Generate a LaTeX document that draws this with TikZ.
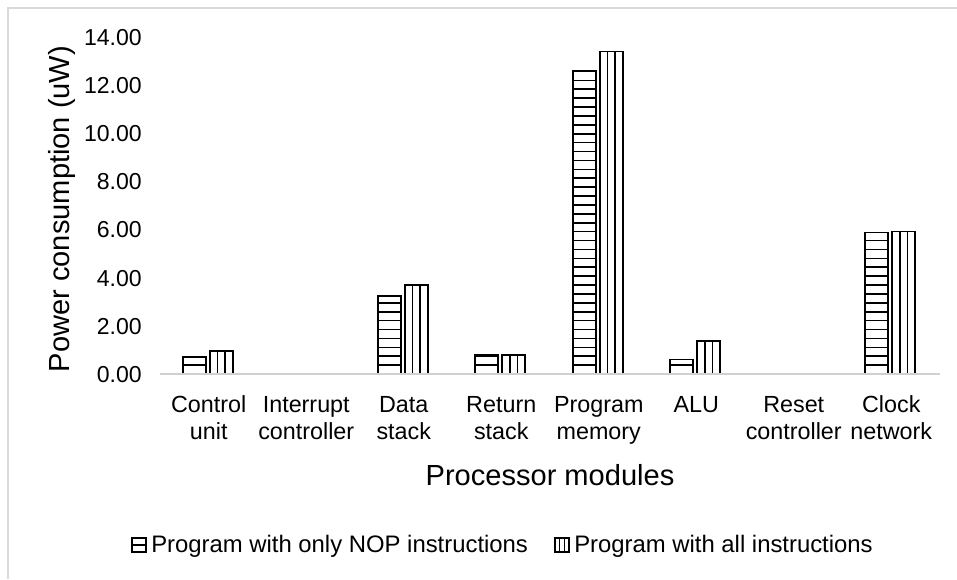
\documentclass[tikz,border=0pt]{standalone}
\usepackage{fontspec}
\setmainfont{Liberation Sans}
\begin{document}
\begin{tikzpicture}[x=0.75pt,y=-0.75pt,
  frame/.style={draw=black!15,line width=1.1pt},
  axisline/.style={draw=black!18,line width=1.4pt},
  barbox/.style={draw=black,line width=1.2pt},
  hatch/.style={draw=black,line width=1.2pt},
  tick/.style={font=\fontsize{17.3}{20}\selectfont,anchor=base east,inner sep=0pt},
  catlab/.style={font=\fontsize{17.5}{20}\selectfont,anchor=base,inner sep=0pt},
  axtitle/.style={font=\fontsize{21.8}{25}\selectfont,anchor=base,inner sep=0pt},
  legtext/.style={font=\fontsize{17.9}{20}\selectfont,anchor=base west,inner sep=0pt}]
\useasboundingbox (0,0) rectangle (957,579);
\fill[white] (0,0) rectangle (957,579);
% chart area border (only top and left edges lie inside the page)
\draw[frame] (8,579) -- (8,8) -- (957,8);

% value axis labels
\foreach \v/\lab in {0/0.00,2/2.00,4/4.00,6/6.00,8/8.00,10/10.00,12/12.00,14/14.00}{
  \node[tick] (t\v) at (142,{374-24.07*\v+8.3}) {\lab};
}
\node[axtitle,rotate=90] (ytitle) at (69,209) {Power consumption (uW)};

% bars: NOP program (horizontal hatch) and all-instructions program (vertical hatch)
\foreach \i/\a/\b in {0/0.70/0.96,1/0.02/0.02,2/3.25/3.70,3/0.79/0.79,4/12.60/13.40,5/0.60/1.36,6/0.02/0.02,7/5.88/5.92}{
  \pgfmathsetmacro\c{160+97.5*(\i+0.5)}
  \pgfmathsetmacro\ta{374-24.07*\a}
  \pgfmathsetmacro\tb{374-24.07*\b}
  \begin{scope}
    \clip (\c-26,374) rectangle (\c-3,\ta);
    \foreach \k in {1,...,40}
      \draw[hatch] (\c-26,374-8.9*\k) -- ++(23,0);
  \end{scope}
  \draw[barbox] (\c-26,374) rectangle (\c-3,\ta);
  \draw[hatch] (\c+8.7,374) -- (\c+8.7,\tb);
  \draw[hatch] (\c+16.3,374) -- (\c+16.3,\tb);
  \draw[barbox] (\c+1,374) rectangle (\c+24,\tb);
}

% category axis
\draw[axisline] (160,374) -- (940,374);

\foreach \i/\la/\lb in {0/Control/unit,1/Interrupt/controller,2/Data/stack,3/Return/stack,4/Program/memory,5/ALU/,6/Reset/controller,7/Clock/network}{
  \pgfmathsetmacro\c{160+97.5*(\i+0.5)}
  \node[catlab] (ca\i) at (\c,412) {\la};
  \node[catlab] (cb\i) at (\c,439) {\lb};
}
\node[axtitle] (xtitle) at (550,485) {Processor modules};

% legend
\draw[barbox,line width=0.9pt] (132,538) rectangle (146,552);
\draw[hatch,line width=1.4pt] (132,545) -- (146,545);
\node[legtext] (leg1) at (151,552) {Program with only NOP instructions};
\draw[barbox,line width=0.9pt] (555,538) rectangle (569,552);
\draw[hatch,line width=0.9pt] (559.7,538) -- (559.7,552);
\draw[hatch,line width=0.9pt] (564.3,538) -- (564.3,552);
\node[legtext] (leg2) at (574,552) {Program with all instructions};
\end{tikzpicture}
\end{document}
